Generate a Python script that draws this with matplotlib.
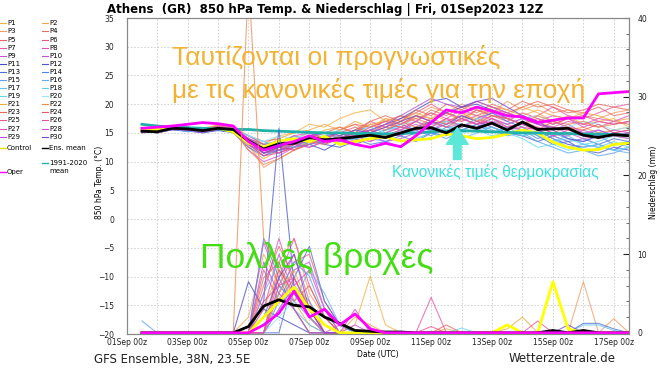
import numpy as np
import matplotlib.pyplot as plt
from matplotlib.lines import Line2D
from matplotlib.patches import FancyArrowPatch
from matplotlib.ticker import MultipleLocator

# Termine: 12-stuendlich ab 01Sep 12Z, in Tagen nach 01Sep 00z
days = np.arange(0.5, 16.6, 0.5)

tick_days = [0, 2, 4, 6, 8, 10, 12, 14, 16]
tick_labels = ['01Sep 00z', '03Sep 00z', '05Sep 00z', '07Sep 00z', '09Sep 00z',
               '11Sep 00z', '13Sep 00z', '15Sep 00z', '17Sep 00z']

# 850 hPa Temperatur (degC) der Ensemble-Mitglieder
temp_p1 = [15.0, 15.4, 16.2, 15.6, 15.8, 16.4, 16.0, 14.5, 13.0, 14.5, 15.0, 16.5, 16.0, 17.5, 18.5, 19.0, 17.0, 18.0, 17.5, 18.5, 17.0, 18.0, 17.5, 19.0, 18.0, 19.5, 18.5, 17.0, 18.0, 16.5, 17.0, 17.5, 16.0]
temp_p2 = [15.5, 15.0, 16.0, 15.8, 15.2, 15.9, 15.5, 12.5, 10.5, 12.0, 13.5, 14.0, 15.5, 16.0, 15.0, 16.5, 17.0, 16.0, 18.0, 17.5, 18.5, 17.0, 19.0, 18.0, 17.5, 16.5, 17.0, 16.0, 15.5, 16.0, 15.0, 15.5, 16.0]
temp_p3 = [15.2, 15.3, 16.0, 15.5, 15.6, 16.2, 15.8, 13.0, 9.0, 10.5, 12.0, 13.0, 14.5, 15.5, 16.5, 15.0, 17.5, 16.5, 18.0, 19.5, 18.5, 20.0, 19.0, 18.5, 20.5, 19.0, 20.0, 18.5, 19.0, 18.0, 17.5, 18.5, 19.0]
temp_p4 = [15.6, 15.1, 15.9, 15.8, 15.3, 15.7, 15.5, 14.0, 11.5, 12.5, 14.0, 15.0, 14.0, 15.5, 16.5, 16.0, 17.0, 18.0, 17.0, 19.0, 18.0, 19.5, 18.5, 20.0, 19.0, 20.5, 19.5, 20.0, 19.0, 18.5, 19.5, 18.0, 18.5]
temp_p5 = [15.4, 15.2, 15.7, 15.9, 15.5, 15.6, 15.3, 13.5, 12.0, 11.5, 12.5, 13.5, 13.0, 14.0, 15.0, 14.5, 15.5, 16.5, 17.5, 16.5, 17.0, 16.0, 17.5, 16.5, 15.5, 17.0, 16.0, 15.0, 16.0, 15.0, 14.0, 15.0, 14.5]
temp_p6 = [15.3, 15.0, 15.6, 15.6, 15.2, 15.9, 15.7, 14.5, 13.5, 14.0, 13.0, 14.5, 15.0, 14.0, 15.5, 17.0, 16.0, 17.5, 18.5, 20.0, 18.5, 17.5, 19.0, 18.0, 17.0, 18.5, 17.5, 16.5, 17.5, 16.5, 16.0, 17.0, 16.5]
temp_p7 = [15.5, 15.3, 15.9, 16.0, 15.6, 16.0, 15.4, 13.0, 11.0, 12.5, 12.0, 13.5, 14.0, 13.5, 14.5, 15.0, 16.0, 15.5, 17.0, 16.0, 17.5, 17.0, 18.0, 19.0, 18.5, 17.5, 18.0, 19.5, 18.0, 17.5, 18.5, 19.5, 20.0]
temp_p8 = [15.7, 15.4, 16.3, 15.9, 15.7, 16.1, 15.9, 14.0, 12.5, 11.5, 13.0, 12.5, 13.5, 14.5, 13.5, 14.0, 15.0, 16.0, 15.5, 17.0, 16.0, 16.5, 15.5, 17.0, 16.5, 15.5, 16.0, 15.0, 14.5, 15.5, 14.5, 15.0, 15.5]
temp_p9 = [15.2, 15.1, 15.8, 15.5, 15.3, 15.6, 15.4, 12.0, 10.0, 11.0, 12.5, 14.0, 13.0, 14.5, 14.0, 13.5, 14.5, 15.5, 16.5, 15.5, 17.0, 18.0, 17.0, 18.5, 17.5, 18.0, 17.0, 18.0, 17.5, 16.0, 17.0, 16.5, 17.0]
temp_p10 = [15.4, 15.6, 16.1, 15.7, 15.5, 15.9, 15.6, 14.5, 13.0, 13.5, 14.5, 13.5, 14.5, 15.0, 14.0, 14.5, 13.5, 14.0, 15.0, 16.0, 15.0, 16.5, 16.0, 17.5, 16.5, 17.5, 16.5, 15.5, 16.5, 15.0, 15.5, 14.5, 15.0]
temp_p11 = [15.6, 15.0, 15.6, 15.4, 15.0, 15.5, 15.1, 13.0, 11.5, 12.0, 12.5, 13.0, 12.0, 13.5, 14.0, 15.5, 16.5, 17.5, 19.0, 20.5, 21.0, 19.5, 20.0, 19.0, 17.5, 16.5, 15.5, 14.0, 13.0, 12.5, 13.0, 12.0, 13.5]
temp_p12 = [15.1, 15.2, 15.5, 15.3, 15.1, 15.4, 15.2, 13.5, 12.0, 12.5, 13.5, 14.5, 13.0, 12.5, 13.5, 14.0, 15.0, 14.5, 16.0, 17.0, 16.5, 18.0, 17.0, 16.0, 15.0, 14.5, 13.5, 14.5, 13.5, 12.0, 11.5, 12.5, 12.0]
temp_p13 = [15.0, 15.3, 15.7, 15.4, 15.4, 15.5, 15.0, 12.5, 11.0, 12.0, 13.0, 13.5, 14.5, 15.0, 14.0, 13.0, 13.5, 14.5, 13.5, 15.0, 14.5, 16.0, 17.5, 18.5, 17.0, 16.0, 14.5, 13.0, 13.5, 14.0, 13.0, 14.0, 13.5]
temp_p14 = [15.3, 15.1, 15.8, 15.2, 15.5, 15.6, 15.3, 14.0, 12.5, 13.5, 14.0, 13.0, 13.5, 14.0, 15.0, 14.5, 15.5, 16.5, 15.5, 14.5, 16.0, 15.5, 16.5, 15.0, 16.0, 15.5, 14.0, 15.0, 14.0, 13.5, 14.5, 13.0, 13.5]
temp_p15 = [15.8, 15.5, 16.0, 15.6, 15.3, 15.8, 15.6, 14.0, 13.0, 13.5, 12.5, 13.0, 14.0, 13.5, 13.0, 14.0, 13.5, 12.5, 14.0, 15.0, 14.0, 15.5, 16.5, 15.5, 14.5, 15.0, 13.5, 12.5, 11.5, 12.0, 11.0, 11.5, 12.5]
temp_p16 = [15.5, 15.2, 15.9, 15.5, 15.4, 15.7, 15.5, 13.5, 11.5, 12.0, 13.5, 14.0, 13.5, 14.5, 15.5, 16.0, 15.0, 14.5, 15.5, 16.5, 17.0, 16.5, 15.5, 16.0, 15.0, 14.5, 15.5, 14.0, 12.5, 13.0, 12.5, 12.0, 11.5]
temp_p17 = [15.2, 15.0, 15.6, 15.3, 15.2, 15.6, 15.4, 14.5, 13.5, 12.5, 13.5, 14.5, 15.0, 14.0, 14.5, 15.5, 14.5, 15.5, 14.5, 15.5, 15.0, 14.0, 15.0, 16.0, 15.0, 15.5, 14.5, 13.5, 14.5, 13.0, 12.5, 13.5, 12.5]
temp_p18 = [15.6, 15.3, 16.0, 15.7, 15.6, 15.8, 15.6, 14.0, 12.5, 13.0, 14.5, 14.0, 14.5, 13.5, 14.0, 14.5, 15.5, 16.0, 15.0, 16.0, 15.5, 16.5, 15.5, 15.0, 16.0, 14.5, 15.0, 13.5, 14.0, 13.0, 13.5, 14.5, 14.0]
temp_p19 = [15.4, 15.2, 15.8, 15.6, 15.4, 15.8, 15.5, 13.5, 12.0, 13.0, 12.5, 13.5, 14.0, 13.0, 13.5, 14.5, 14.0, 15.0, 16.0, 15.5, 16.5, 15.0, 15.5, 14.5, 15.0, 14.0, 12.5, 13.0, 12.0, 12.5, 13.0, 12.0, 12.5]
temp_p20 = [15.7, 15.5, 16.2, 15.8, 15.7, 16.0, 15.8, 14.5, 13.5, 14.5, 14.0, 15.0, 14.5, 15.5, 15.0, 16.0, 15.0, 16.5, 17.0, 16.0, 17.0, 16.0, 17.5, 17.0, 16.5, 17.5, 18.0, 17.0, 16.0, 17.0, 16.5, 15.5, 16.0]
temp_p21 = [15.3, 15.4, 16.1, 15.9, 15.6, 16.3, 15.9, 14.0, 12.5, 14.0, 15.0, 15.5, 16.5, 15.5, 17.0, 16.0, 17.5, 17.0, 18.5, 17.5, 19.0, 18.5, 18.0, 19.5, 19.0, 18.0, 19.0, 18.0, 17.5, 18.5, 18.0, 17.0, 17.5]
temp_p22 = [15.5, 15.3, 16.0, 15.7, 15.4, 16.1, 15.7, 12.0, 9.5, 10.5, 12.0, 13.5, 13.0, 14.5, 15.5, 16.5, 15.5, 17.0, 16.0, 17.5, 16.5, 18.5, 17.0, 18.0, 17.5, 16.5, 18.0, 17.0, 16.5, 17.0, 16.0, 16.5, 17.0]
temp_p23 = [15.1, 15.2, 15.8, 15.6, 15.3, 15.7, 15.5, 13.5, 11.5, 12.5, 13.0, 14.0, 15.0, 16.0, 15.0, 17.0, 18.0, 17.0, 19.0, 18.0, 20.0, 19.0, 20.5, 19.5, 18.5, 19.5, 20.5, 19.5, 18.5, 19.0, 20.0, 19.5, 19.0]
temp_p24 = [15.4, 15.1, 15.7, 15.5, 15.4, 15.8, 15.4, 14.0, 13.0, 12.0, 13.0, 14.5, 14.0, 15.0, 16.0, 15.0, 16.5, 16.0, 15.5, 17.0, 16.0, 17.5, 16.5, 17.5, 16.0, 16.5, 15.5, 17.0, 16.0, 15.5, 16.5, 15.0, 15.5]
temp_p25 = [15.6, 15.4, 16.2, 15.8, 15.5, 16.0, 15.7, 13.5, 12.0, 12.5, 12.0, 13.0, 14.0, 15.0, 14.5, 16.0, 17.0, 16.5, 18.0, 17.0, 18.5, 17.5, 16.5, 18.0, 17.5, 16.5, 17.5, 16.5, 17.5, 18.0, 17.0, 16.5, 17.0]
temp_p26 = [15.3, 15.0, 15.7, 15.6, 15.3, 15.7, 15.6, 13.0, 11.0, 11.5, 12.5, 14.0, 13.5, 14.0, 15.0, 15.5, 14.5, 15.5, 17.0, 16.0, 17.5, 16.0, 17.0, 16.5, 15.5, 16.0, 15.5, 14.5, 15.5, 14.5, 15.0, 14.5, 14.0]
temp_p27 = [15.7, 15.3, 16.3, 16.0, 15.6, 16.2, 15.8, 14.0, 12.0, 13.0, 14.5, 15.0, 14.0, 15.0, 14.5, 13.5, 15.0, 16.0, 17.0, 18.5, 17.5, 19.0, 18.0, 17.5, 16.5, 17.5, 16.5, 16.0, 17.0, 16.5, 17.5, 17.0, 18.0]
temp_p28 = [15.5, 15.2, 16.0, 15.8, 15.4, 15.8, 15.5, 13.0, 11.5, 12.0, 13.0, 12.5, 13.5, 14.0, 13.0, 14.0, 15.0, 14.5, 16.0, 15.5, 16.5, 17.5, 16.5, 17.0, 16.0, 16.5, 15.5, 14.5, 15.0, 14.0, 14.5, 15.5, 15.0]
temp_p29 = [15.2, 15.1, 15.6, 15.4, 15.1, 15.6, 15.3, 14.0, 12.5, 13.5, 14.0, 13.5, 14.5, 13.5, 14.5, 15.5, 16.5, 18.0, 19.5, 21.0, 20.0, 19.5, 20.5, 19.5, 18.5, 17.5, 16.5, 16.0, 15.0, 14.5, 15.5, 14.5, 15.0]
temp_p30 = [15.4, 15.2, 15.8, 15.5, 15.3, 15.7, 15.4, 13.5, 11.5, 12.5, 13.5, 14.5, 15.0, 14.5, 15.5, 15.0, 16.0, 17.0, 18.0, 17.0, 18.5, 19.5, 20.5, 21.0, 19.5, 18.0, 17.0, 15.5, 14.0, 13.5, 14.5, 15.0, 14.5]

temp_control = [15.5, 15.6, 16.0, 15.8, 15.5, 15.8, 15.2, 13.2, 12.5, 13.6, 14.0, 13.5, 14.4, 13.0, 13.5, 14.0, 14.3, 13.6, 13.8, 14.0, 14.8, 14.5, 14.0, 14.2, 14.8, 15.5, 15.0, 13.4, 12.5, 12.0, 12.1, 13.0, 13.2]
temp_mean = [15.3, 15.2, 15.8, 15.7, 15.4, 15.8, 15.6, 13.6, 12.2, 13.1, 13.2, 14.2, 13.8, 14.0, 14.3, 14.6, 14.2, 15.0, 15.8, 15.9, 15.0, 16.4, 15.8, 16.7, 15.5, 16.9, 15.6, 15.7, 15.8, 14.6, 14.2, 14.7, 14.5]
temp_clim = [16.5, 16.2, 16.0, 15.9, 15.8, 15.7, 15.6, 15.6, 15.4, 15.3, 15.2, 15.1, 15.0, 15.0, 14.9, 14.9, 14.8, 14.9, 15.0, 15.2, 15.3, 15.4, 15.3, 15.2, 15.1, 15.0, 15.0, 14.9, 14.9, 14.8, 14.8, 14.7, 14.6]
temp_oper = [15.8, 16.0, 16.2, 16.5, 16.8, 16.6, 16.2, 13.5, 12.0, 12.8, 13.5, 14.5, 13.5, 13.8, 13.0, 12.5, 13.2, 12.6, 14.5, 16.8, 19.0, 18.5, 19.5, 18.8, 18.0, 17.8, 16.8, 17.2, 17.6, 17.6, 21.8, 22.0, 22.2]

# Niederschlag (mm) der Ensemble-Mitglieder
rain_p1 = [0, 0, 0, 0, 0, 0, 0, 0, 3, 8, 6, 2, 0, 0, 1, 7.2, 1, 0, 0, 0, 0.5, 0, 0, 0, 0, 0, 0, 0, 0, 0, 0, 0, 0]
rain_p2 = [0, 0, 0, 0, 0, 0, 0, 2, 10, 6, 4, 1, 0, 0, 0, 0, 0, 0, 0, 0, 0, 0, 0, 0, 0, 0, 0, 0, 0, 0, 0, 0, 0]
rain_p3 = [0, 0, 0, 0, 0, 0, 0, 0, 0, 9, 12, 5, 2, 0, 0, 0, 0, 0, 0, 0, 0, 0, 0, 0, 0, 0, 0, 0, 0, 6.5, 0, 1.8, 0]
rain_p4 = [0, 0, 0, 0, 0, 0, 0, 0, 6, 11, 7, 3, 1, 0, 0, 0, 0, 0, 0, 0, 0, 0, 0, 0, 0, 0, 0, 0, 0, 0, 0, 0, 0]
rain_p5 = [0, 0, 0, 0, 0, 0, 0, 0, 0, 5, 9, 10, 4, 1, 0, 0, 0, 0, 0, 0, 0, 0, 0, 0, 0, 0, 0, 0, 0, 0, 0, 0, 0]
rain_p6 = [0, 0, 0, 0, 0, 0, 0, 0, 8, 4, 7, 3, 0, 0, 0, 0, 0, 0, 0, 0, 0, 0, 0, 0, 0, 0, 0, 0, 0, 0, 0, 0, 0]
rain_p7 = [0, 0, 0, 0, 0, 0, 0, 0, 0, 7, 12, 6, 2, 0, 0, 0, 0, 0, 0, 0, 0, 0, 0, 0, 0, 0, 0, 0, 0, 0, 0, 0, 0]
rain_p8 = [0, 0, 0, 0, 0, 0, 0, 0, 11.5, 6, 4, 2, 0, 1, 0, 0, 0, 0, 0, 0, 0, 0, 0, 0, 0, 0, 0, 0, 0, 0, 0, 0, 0]
rain_p9 = [0, 0, 0, 0, 0, 0, 0, 0, 0, 4, 8, 9, 3, 0, 1, 0, 0, 0, 0, 0, 0, 0, 0, 0, 0, 0, 0, 0, 0, 0, 0, 0, 0]
rain_p10 = [0, 0, 0, 0, 0, 0, 0, 0, 3, 10, 5, 2, 0, 0, 0, 0, 0, 0, 0, 0, 0, 0, 0, 0, 0, 0, 0, 0, 0, 0, 0, 0, 0]
rain_p11 = [0, 0, 0, 0, 0, 0, 0, 6.5, 3, 2, 1, 0, 0, 0, 0, 0, 0, 0, 0, 0, 0, 0, 0, 0, 0, 0, 0, 0, 0, 0, 0, 0, 0]
rain_p12 = [0, 0, 0, 0, 0, 0, 0, 0, 4, 26, 6, 2, 0, 0, 0, 0, 0, 0, 0, 0, 0, 0, 0, 0, 0, 0, 0, 0, 0, 0, 0, 0, 0]
rain_p13 = [0, 0, 0, 0, 0, 0, 0, 0, 0, 0, 7, 11, 4, 1, 0, 0, 0, 0, 0, 0, 0, 0, 0, 0, 0, 0, 0, 0, 0, 1.2, 1.2, 0.5, 0]
rain_p14 = [0, 0, 0, 0, 0, 0, 0, 0, 12, 7, 3, 0, 0, 0, 0, 0, 0, 0, 0, 0, 0, 0, 0, 0, 0, 0, 0, 0, 0, 0, 0, 0, 0]
rain_p15 = [1.5, 0, 0, 0, 0, 0, 0, 0, 2, 5, 9, 7.2, 2, 0, 0, 0, 0, 0, 0, 0, 0, 0, 0, 0, 0, 0, 0, 0, 0, 0, 0, 0, 0]
rain_p16 = [0, 0, 0, 0, 0, 0, 0, 0, 0, 6, 4, 8, 5, 1, 0, 0, 0, 0, 0, 0, 0, 0, 0, 0, 0, 0, 0, 0, 0, 0, 0, 0, 0]
rain_p17 = [0, 0, 0, 0, 0, 0, 0, 0, 5, 9, 3, 1, 0, 0, 0, 0, 0, 0, 0, 0, 0, 0, 0, 0, 0, 0, 0, 0, 0, 1, 1, 0.3, 0]
rain_p18 = [0, 0, 0, 0, 0, 0, 0, 0, 0, 3, 6, 4, 1, 0, 0, 0, 0, 0, 0, 0, 0, 0, 0, 0, 0, 0, 0, 0, 0, 0, 0, 0, 0]
rain_p19 = [0, 0, 0, 0, 0, 0, 0, 0, 0, 4, 5, 2, 0, 0, 0, 0, 0, 0, 0, 0, 0, 0.6, 0, 0, 0, 0, 0, 0, 0, 0, 0, 0, 0]
rain_p20 = [0, 0, 0, 0, 0, 0, 0, 0, 0, 2, 4, 2, 0, 0, 0, 0, 0, 0, 0, 0, 0, 0, 0, 0, 0, 0, 0, 0, 0, 0, 0, 0, 0]
rain_p21 = [0, 0, 0, 0, 0, 0, 0, 0, 0, 5, 8, 3, 0, 0, 2, 1, 0, 0, 0, 0, 0, 0, 0, 0, 0.5, 2, 0, 0, 0, 0, 0, 0, 0]
rain_p22 = [0, 0, 0, 0, 0, 0, 0, 45, 12, 8, 3, 0, 0, 0, 0, 0, 0, 0, 0, 0, 0, 0, 0, 0, 0, 0, 0, 0, 0, 0, 0, 0, 0]
rain_p23 = [0, 0, 0, 0, 0, 0, 0, 0, 7, 9, 4, 6, 2, 0, 0, 0, 0, 0, 0, 0, 1, 0, 0, 0, 0, 0, 0, 0, 0, 0, 0, 0, 0]
rain_p24 = [0, 0, 0, 0, 0, 0, 0, 0, 0, 8, 5, 3, 1, 0, 0, 0, 0, 0, 0, 0, 0, 0, 0, 0, 0, 0, 0, 0, 0, 0, 0, 0, 0]
rain_p25 = [0, 0, 0, 0, 0, 0, 0, 0, 4, 6, 10, 4, 0, 0, 0, 0, 0, 0, 0, 0.8, 0, 0, 0, 0, 0, 0, 0, 0, 0, 0, 0, 0, 0]
rain_p26 = [0, 0, 0, 0, 0, 0, 0, 0, 0, 6, 7, 3, 0, 0, 0, 0, 0, 0, 0, 4.5, 0, 0, 0, 0, 0, 0, 1.5, 0, 0, 0, 0, 0, 0]
rain_p27 = [0, 0, 0, 0, 0, 0, 0, 0, 5, 12, 6, 2, 0, 0, 0, 0, 0, 0, 0, 0, 0, 0, 0, 0, 0, 0, 0, 0, 0, 0, 0, 0, 0]
rain_p28 = [0, 0, 0, 0, 0, 0, 0, 0, 0, 3, 6, 8, 3, 0, 3, 0, 0, 0, 0, 0, 0, 0, 0, 0, 0, 0, 0, 0, 0, 0, 0, 0, 0]
rain_p29 = [0, 0, 0, 0, 0, 0, 0, 0, 9, 5, 3, 0, 0, 0, 0, 0, 0, 0, 0, 0, 0, 0, 0, 0, 0, 0, 0, 0, 0, 0, 0, 0, 0]
rain_p30 = [0, 0, 0, 0, 0, 0, 0, 0, 2, 7, 10, 3, 0, 0, 0, 0, 0, 0, 0, 0, 0, 0, 0, 0, 0, 0, 0, 0, 1, 0, 0, 0, 0]

rain_control = [0, 0, 0, 0, 0, 0, 0, 0, 2, 4, 5.8, 3, 1, 0, 0, 0, 0, 0, 0, 0, 0, 0, 0, 0, 1, 0, 0, 6.5, 0.5, 0, 0, 0, 0]
rain_mean = [0, 0, 0, 0, 0, 0, 0, 0.8, 3.4, 4.2, 3.5, 3.3, 2.0, 1.2, 0.3, 0.2, 0.1, 0.1, 0, 0, 0, 0, 0, 0, 0, 0, 0, 0.3, 0, 0.3, 0, 0, 0]
rain_oper = [0, 0, 0, 0, 0, 0, 0, 0, 1, 2.5, 5.3, 2, 3, 1, 2.4, 0.5, 0, 0, 0, 0, 0, 0, 0, 0, 0, 0, 0, 0, 0, 0, 0, 0, 0]

member_names = ['P%d' % (i + 1) for i in range(30)]
member_colors = ['#f4b040', '#f0a848', '#f09a60', '#e87060', '#e86068', '#e85878', '#e858a0', '#e050c0', '#d050d8', '#c050e0',
                 '#4848c8', '#4858d0', '#4870d8', '#4888e8', '#58a0f0', '#60b0f0', '#60c0f0', '#58d0f0', '#60d8f0', '#90e8f8',
                 '#f0a840', '#f08848', '#e86858', '#e85868', '#e85888', '#e850a0', '#e050b8', '#d050c8', '#b050d8', '#7048c8']

temps = [temp_p1, temp_p2, temp_p3, temp_p4, temp_p5, temp_p6, temp_p7, temp_p8, temp_p9, temp_p10,
         temp_p11, temp_p12, temp_p13, temp_p14, temp_p15, temp_p16, temp_p17, temp_p18, temp_p19, temp_p20,
         temp_p21, temp_p22, temp_p23, temp_p24, temp_p25, temp_p26, temp_p27, temp_p28, temp_p29, temp_p30]
rains = [rain_p1, rain_p2, rain_p3, rain_p4, rain_p5, rain_p6, rain_p7, rain_p8, rain_p9, rain_p10,
         rain_p11, rain_p12, rain_p13, rain_p14, rain_p15, rain_p16, rain_p17, rain_p18, rain_p19, rain_p20,
         rain_p21, rain_p22, rain_p23, rain_p24, rain_p25, rain_p26, rain_p27, rain_p28, rain_p29, rain_p30]

W, H = 660, 371
def fx(px):
    return px / W
def fy(py):
    return 1 - py / H

fig = plt.figure(figsize=(6.6, 3.71), dpi=100)
ax = fig.add_axes([fx(126.7), fy(334), (629 - 126.7) / W, 316 / H])
ax2 = ax.twinx()

# Temperatur
for vals, col in zip(temps, member_colors):
    ax.plot(days, vals, color=col, lw=0.8, alpha=0.75)
ax.plot(days, temp_control, color='#ffff00', lw=2)
ax.plot(days, temp_clim, color='#20b2aa', lw=2)
ax.plot(days, temp_mean, color='black', lw=2)
ax.plot(days, temp_oper, color='#ff00ff', lw=2)

# Niederschlag
for vals, col in zip(rains, member_colors):
    ax2.plot(days, vals, color=col, lw=0.8, alpha=0.75)
ax2.plot(days, rain_control, color='#ffff00', lw=2)
ax2.plot(days, rain_mean, color='black', lw=2)
ax2.plot(days, rain_oper, color='#ff00ff', lw=2)

ax.set_xlim(0, 16.5)
ax.set_ylim(-20, 35)
ax2.set_ylim(-0.15, 40)

ax.set_xticks(tick_days)
ax.set_xticklabels(tick_labels)
ax.xaxis.set_minor_locator(MultipleLocator(1))
ax.set_yticks(range(-20, 36, 5))
ax.tick_params(axis='both', which='both', length=0, labelsize=5.5, colors='#222222')
ax.tick_params(axis='x', pad=3)
ax.tick_params(axis='y', pad=9)
ax.grid(True, which='both', axis='x', color='#cccccc', lw=0.6, ls=(0, (2, 2)))
ax.grid(True, which='major', axis='y', color='#cccccc', lw=0.6, ls=(0, (2, 2)))
ax.set_axisbelow(True)

ax2.set_yticks([0, 10, 20, 30, 40])
ax2.yaxis.set_minor_locator(MultipleLocator(2))
ax2.tick_params(axis='y', which='major', direction='in', length=4, labelsize=5.5, pad=6, colors='#222222')
ax2.tick_params(axis='y', which='minor', direction='in', length=2, colors='#555555')

for a in (ax, ax2):
    for s in a.spines.values():
        s.set_color('#888888')
        s.set_linewidth(0.8)

ax.set_ylabel('850 hPa Temp. (°C)', fontsize=5.5)
ax.yaxis.set_label_coords(-0.046, 0.48)
ax2.set_ylabel('Niederschlag (mm)', fontsize=5.5)
ax2.yaxis.set_label_coords(1.040, 0.48)
ax.set_xlabel('Date (UTC)', fontsize=5.5, labelpad=2)

fig.text(fx(107), fy(9), 'Athens  (GR)  850 hPa Temp. & Niederschlag | Fri, 01Sep2023 12Z',
         fontsize=8.5, fontweight='bold', va='center', ha='left')
fig.text(fx(94), fy(359), 'GFS Ensemble, 38N, 23.5E', fontsize=8.5, va='center', ha='left', color='#222222')
fig.text(fx(616), fy(359), 'Wetterzentrale.de', fontsize=8.5, va='center', ha='right', color='#222222')

# Legende
leg_fs = 5
for r in range(15):
    for c in range(2):
        k = 2 * r + c
        y = 23.3 + 8.1 * r
        x0 = 0 if c == 0 else 42
        fig.add_artist(Line2D([fx(x0), fx(x0 + 6)], [fy(y), fy(y)], color=member_colors[k], lw=0.8))
        fig.text(fx(x0 + 7), fy(y), member_names[k], fontsize=leg_fs, va='center')
extra = [(0, 148, '#f0e000', 'Control'), (42, 148, 'black', 'Ens. mean'),
         (42, 163, '#20b2aa', '1991-2020'), (0, 172, '#ff00ff', 'Oper')]
for x0, y, col, lab in extra:
    fig.add_artist(Line2D([fx(x0), fx(x0 + 6)], [fy(y), fy(y)], color=col, lw=1.0))
    fig.text(fx(x0 + 7), fy(y), lab, fontsize=leg_fs, va='center')
fig.text(fx(49), fy(171), 'mean', fontsize=leg_fs, va='center')

# Beschriftungen im Bild
sans = ['Liberation Sans', 'DejaVu Sans']
fig.text(fx(172), fy(65), 'Ταυτίζονται οι προγνωστικές', fontsize=19, color='#f2b233',
         family=sans, va='baseline', ha='left')
fig.text(fx(172), fy(98), 'με τις κανονικές τιμές για την εποχή', fontsize=19, color='#f2b233',
         family=sans, va='baseline', ha='left')
fig.text(fx(392), fy(177), 'Κανονικές τιμές θερμοκρασίας', fontsize=11.2, color='#3fe0e0',
         family=sans, va='baseline', ha='left')
fig.text(fx(200), fy(268), 'Πολλές βροχές', fontsize=25.5, color='#44dd14',
         family=sans, va='baseline', ha='left')

arrow = FancyArrowPatch((10.86, 9.9), (10.86, 16.4), transform=ax.transData,
                        arrowstyle='simple,head_width=1.3,head_length=1.0,tail_width=0.45',
                        mutation_scale=12, color='#5ce8d8', zorder=10)
ax.add_patch(arrow)

fig.savefig('out.png', dpi=100)
